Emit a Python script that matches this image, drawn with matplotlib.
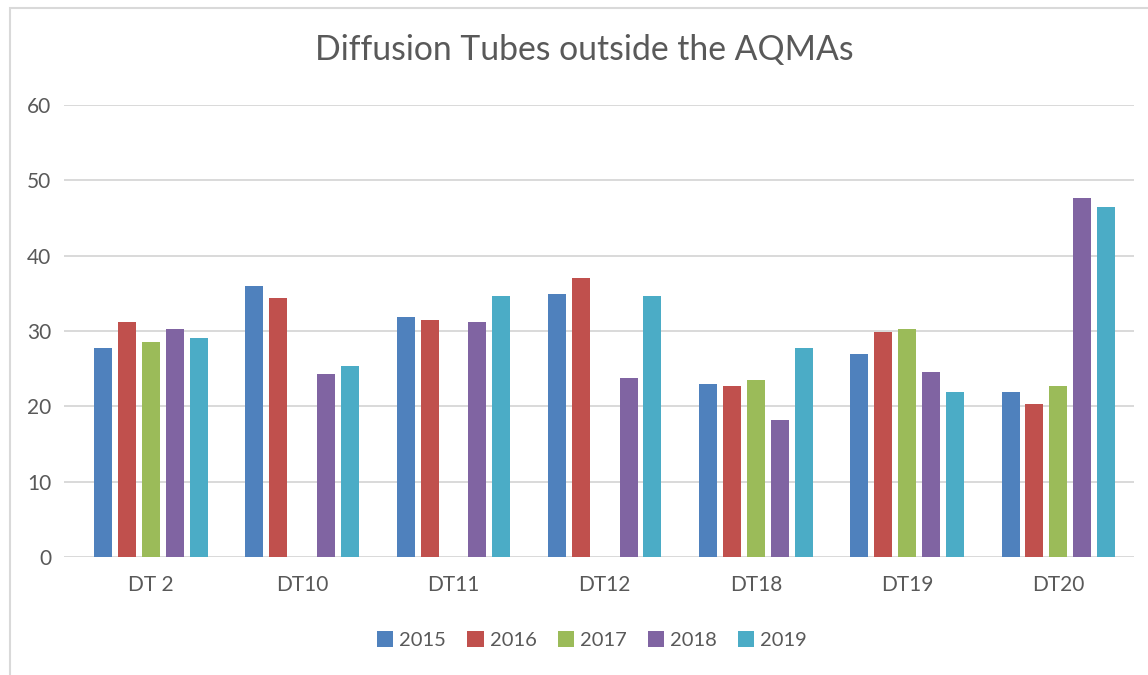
import matplotlib.pyplot as plt
from matplotlib.patches import Rectangle
import numpy as np

plt.rcParams['font.family'] = ['Lato', 'DejaVu Sans']

sites = ['DT 2', 'DT10', 'DT11', 'DT12', 'DT18', 'DT19', 'DT20']
years = ['2015', '2016', '2017', '2018', '2019']
colours = ['#4f81bd', '#c0504d', '#9bbb59', '#8064a2', '#4bacc6']

# NaN = no reading that year
v2015 = [27.8, 36.0, 31.8, 34.9, 23.0, 27.0, 21.9]
v2016 = [31.2, 34.4, 31.5, 37.1, 22.7, 29.9, 20.3]
v2017 = [28.6, np.nan, np.nan, np.nan, 23.5, 30.2, 22.7]
v2018 = [30.2, 24.3, 31.2, 23.8, 18.2, 24.6, 47.7]
v2019 = [29.1, 25.4, 34.7, 34.7, 27.8, 21.9, 46.4]
series = [v2015, v2016, v2017, v2018, v2019]

txt = '#595959'
fig = plt.figure(figsize=(11.48, 6.75), dpi=100)
# chart frame, runs off the right and bottom edges
fig.patches.append(Rectangle((9.5/1148, -0.05), 1.1, (675 - 7.5)/675 + 0.05,
                             transform=fig.transFigure, fill=False,
                             edgecolor='#d9d9d9', linewidth=1.5))
ax = fig.add_axes([64/1148, (675 - 557)/675, (1134 - 64)/1148, (557 - 105)/675])

x = np.arange(len(sites))
w = 0.119
step = 0.158
for i, (vals, yr, c) in enumerate(zip(series, years, colours)):
    ax.bar(x + (i - 2)*step, vals, w, color=c, label=yr, zorder=3)

ax.set_xlim(-0.575, len(sites) - 0.5)
ax.set_ylim(0, 60)
ax.set_yticks(range(0, 61, 10))
ax.set_xticks(x)
ax.set_xticklabels(sites)
ax.grid(axis='y', color='#d9d9d9', linewidth=1.4, zorder=0)
for s in ax.spines.values():
    s.set_visible(False)
ax.tick_params(length=0, colors=txt, labelsize=15)
ax.tick_params(axis='y', pad=9)
ax.tick_params(axis='x', pad=13)

fig.text(0.5 + 10/1148, (675 - 50)/675, 'Diffusion Tubes outside the AQMAs',
         ha='center', va='center', fontsize=24.3, color=txt)

leg = fig.legend(loc='center', bbox_to_anchor=(592/1148, (675 - 640)/675), ncol=5,
                 frameon=False, fontsize=14.5, handlelength=0.8, handleheight=0.8,
                 handletextpad=0.3, columnspacing=1.05)
for t in leg.get_texts():
    t.set_color(txt)

fig.savefig('out.png', dpi=100)
